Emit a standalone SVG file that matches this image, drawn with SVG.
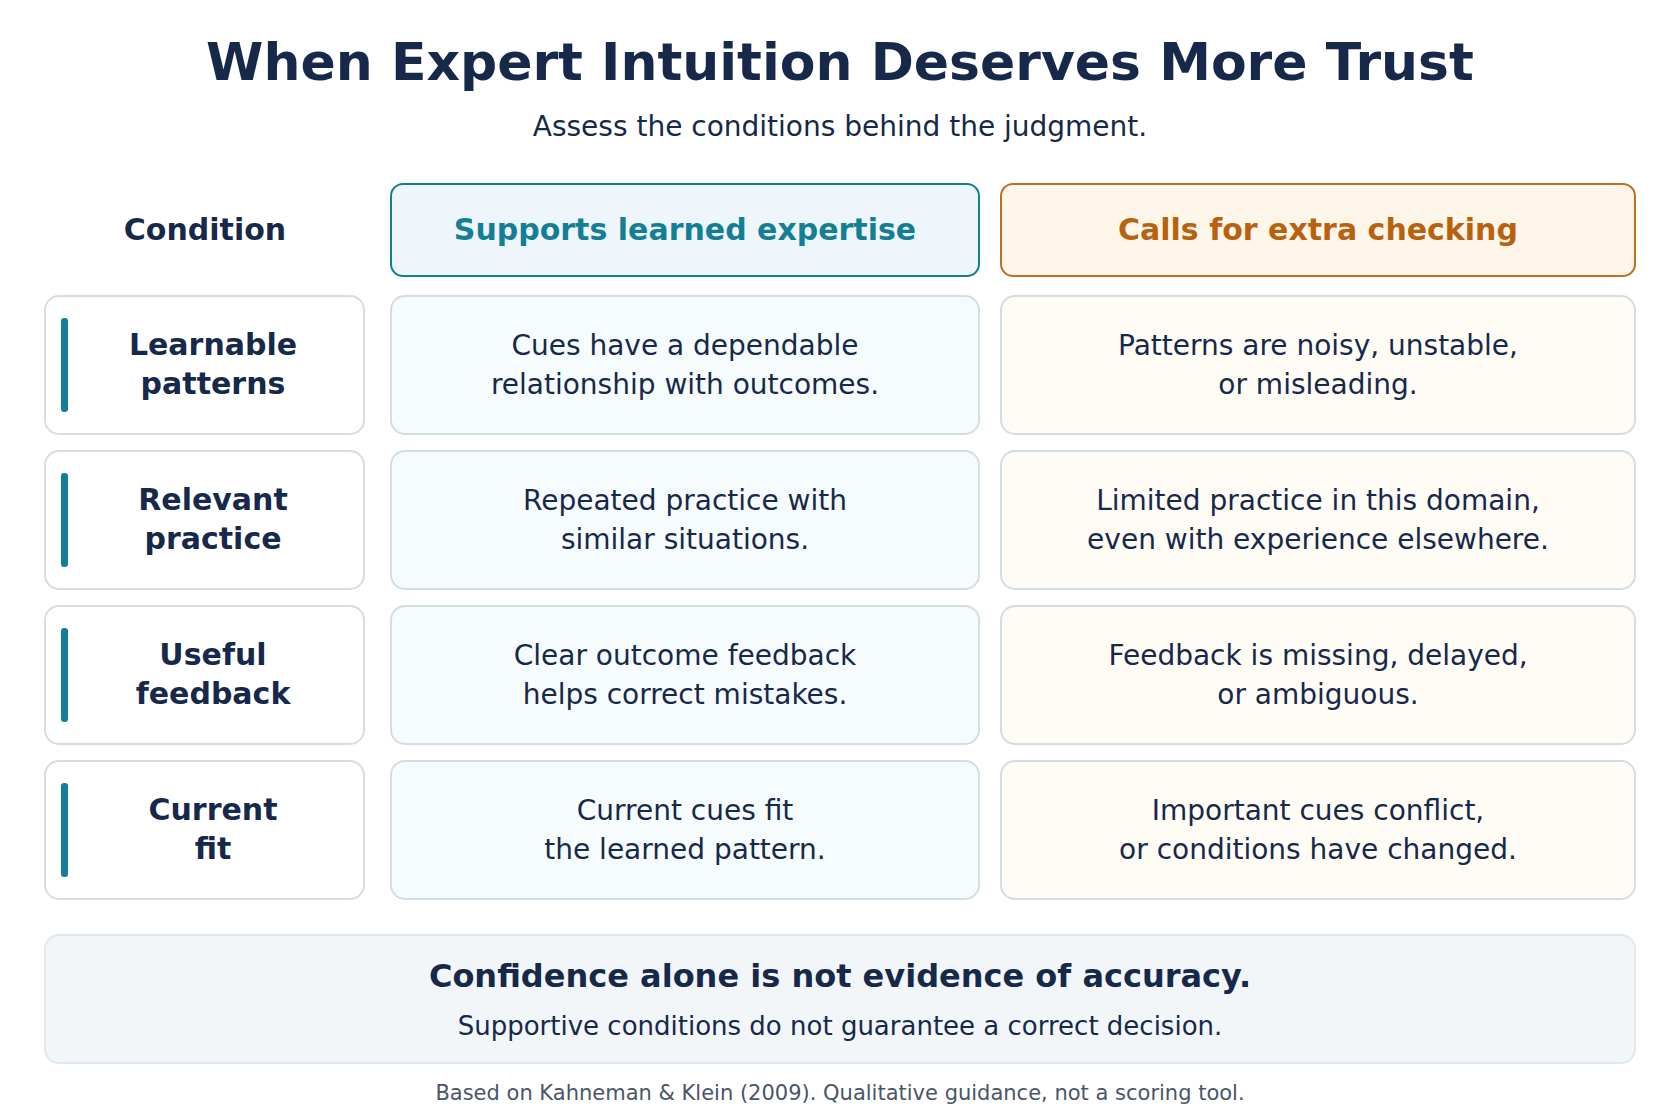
<svg xmlns="http://www.w3.org/2000/svg" width="1680" height="1120" viewBox="0 0 1680 1120">
<style>
text{font-family:"DejaVu Sans","Liberation Sans",sans-serif;text-anchor:middle;fill:#16294a}
.t{font-size:52px;font-weight:bold}
.s{font-size:28px}
.h{font-size:30px;font-weight:bold}
.b{font-size:28px}
.c{fill:#fff;stroke:#d3dde4;stroke-width:2}
.p{fill:#f6fbfd;stroke:#d3dde4;stroke-width:2}
.q{fill:#fffbf5;stroke:#d3dde4;stroke-width:2}
.bar{fill:#137f95}
</style>
<rect width="1680" height="1120" fill="#fff"/>
<text class="t" x="840" y="80">When Expert Intuition Deserves More Trust</text>
<text class="s" x="840" y="136">Assess the conditions behind the judgment.</text>
<g id="hdr">
<text class="h" x="205" y="240">Condition</text>
<rect x="391" y="184" width="588" height="92" rx="12" fill="#eef6fb" stroke="#137f95" stroke-width="2"/>
<text class="h" x="685" y="240" style="fill:#137f95">Supports learned expertise</text>
<rect x="1001" y="184" width="634" height="92" rx="12" fill="#fff6ea" stroke="#c07020" stroke-width="2"/>
<text class="h" x="1318" y="240" style="fill:#b8620f">Calls for extra checking</text>
</g>
<g id="r1">
<rect class="c" x="45" y="296" width="319" height="138" rx="14"/><rect class="bar" x="61" y="318" width="7" height="94" rx="3"/>
<text class="h" x="213" y="355">Learnable</text><text class="h" x="213" y="394">patterns</text>
<rect class="p" x="391" y="296" width="588" height="138" rx="14"/>
<text class="b" x="685" y="355">Cues have a dependable</text><text class="b" x="685" y="394">relationship with outcomes.</text>
<rect class="q" x="1001" y="296" width="634" height="138" rx="14"/>
<text class="b" x="1318" y="355">Patterns are noisy, unstable,</text><text class="b" x="1318" y="394">or misleading.</text>
</g>
<g id="r2">
<rect class="c" x="45" y="451" width="319" height="138" rx="14"/><rect class="bar" x="61" y="473" width="7" height="94" rx="3"/>
<text class="h" x="213" y="510">Relevant</text><text class="h" x="213" y="549">practice</text>
<rect class="p" x="391" y="451" width="588" height="138" rx="14"/>
<text class="b" x="685" y="510">Repeated practice with</text><text class="b" x="685" y="549">similar situations.</text>
<rect class="q" x="1001" y="451" width="634" height="138" rx="14"/>
<text class="b" x="1318" y="510">Limited practice in this domain,</text><text class="b" x="1318" y="549">even with experience elsewhere.</text>
</g>
<g id="r3">
<rect class="c" x="45" y="606" width="319" height="138" rx="14"/><rect class="bar" x="61" y="628" width="7" height="94" rx="3"/>
<text class="h" x="213" y="665">Useful</text><text class="h" x="213" y="704">feedback</text>
<rect class="p" x="391" y="606" width="588" height="138" rx="14"/>
<text class="b" x="685" y="665">Clear outcome feedback</text><text class="b" x="685" y="704">helps correct mistakes.</text>
<rect class="q" x="1001" y="606" width="634" height="138" rx="14"/>
<text class="b" x="1318" y="665">Feedback is missing, delayed,</text><text class="b" x="1318" y="704">or ambiguous.</text>
</g>
<g id="r4">
<rect class="c" x="45" y="761" width="319" height="138" rx="14"/><rect class="bar" x="61" y="783" width="7" height="94" rx="3"/>
<text class="h" x="213" y="820">Current</text><text class="h" x="213" y="859">fit</text>
<rect class="p" x="391" y="761" width="588" height="138" rx="14"/>
<text class="b" x="685" y="820">Current cues fit</text><text class="b" x="685" y="859">the learned pattern.</text>
<rect class="q" x="1001" y="761" width="634" height="138" rx="14"/>
<text class="b" x="1318" y="820">Important cues conflict,</text><text class="b" x="1318" y="859">or conditions have changed.</text>
</g>
<g id="footer">
<rect x="45" y="935" width="1590" height="128" rx="14" fill="#f2f6f8" stroke="#e1e8ec" stroke-width="2"/>
<text class="h" x="840" y="987" style="font-size:32px">Confidence alone is not evidence of accuracy.</text>
<text class="b" x="840" y="1035" style="font-size:26px">Supportive conditions do not guarantee a correct decision.</text>
</g>
<text x="840" y="1100" style="font-size:21px;fill:#4a5668">Based on Kahneman &amp; Klein (2009). Qualitative guidance, not a scoring tool.</text>
<g id="connectors"/>
</svg>
